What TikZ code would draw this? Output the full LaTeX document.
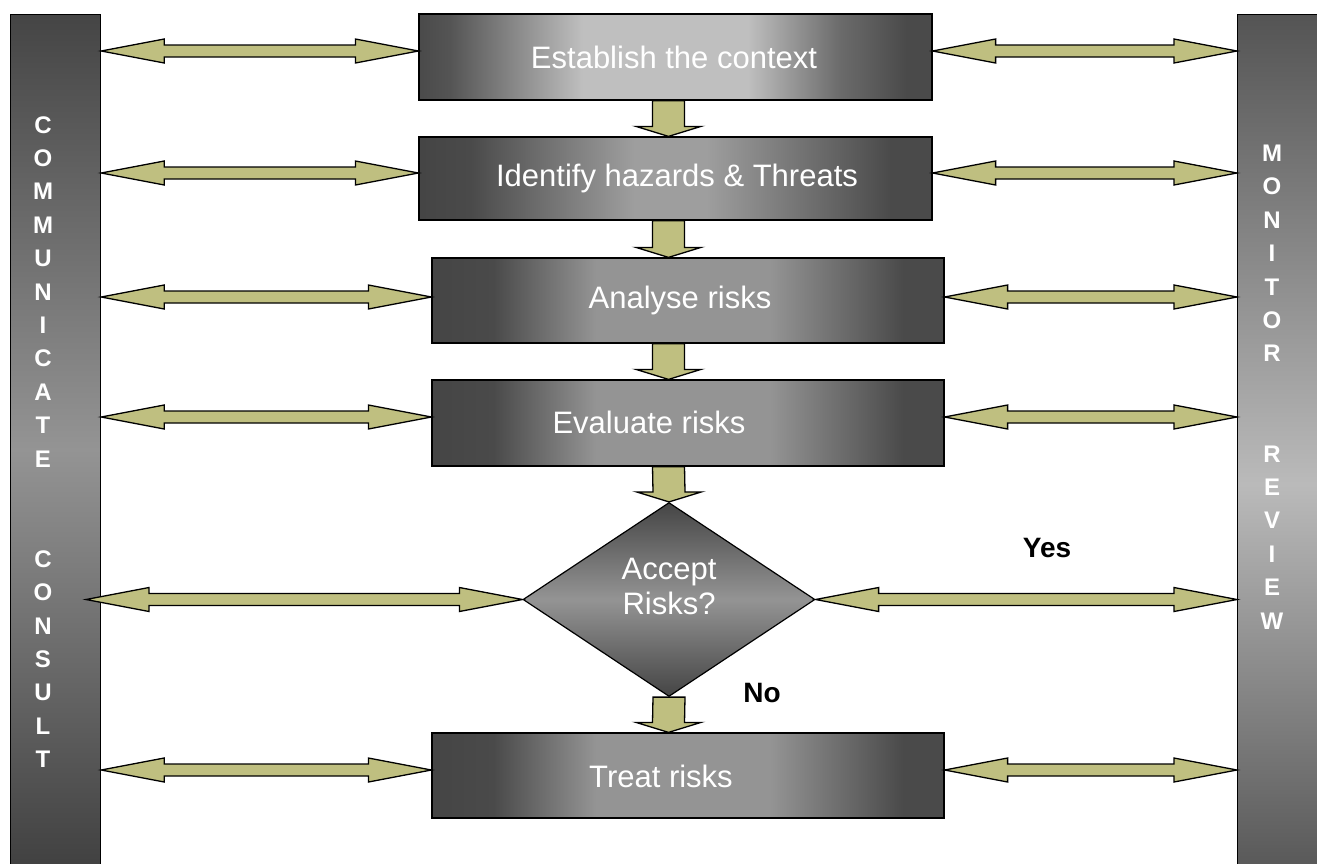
\documentclass[tikz,border=0pt]{standalone}
\usepackage{fontspec}
\setmainfont{Liberation Sans}
\usetikzlibrary{shapes.geometric,calc}
\definecolor{arrowfill}{RGB}{191,191,128}
\definecolor{gA}{gray}{0.27}
\definecolor{gB}{gray}{0.29}
\definecolor{gC}{gray}{0.33}
\definecolor{gD}{gray}{0.58}
\definecolor{gE}{gray}{0.62}
\definecolor{gF}{gray}{0.75}
\definecolor{gG}{gray}{0.73}
\definecolor{gH}{gray}{0.24}
\definecolor{gI}{gray}{0.42}
\pgfdeclarehorizontalshading{boxA}{100bp}{color(0bp)=(gB); color(25bp)=(gB); color(28bp)=(gC); color(41bp)=(gF); color(57bp)=(gF); color(66bp)=(gI); color(72.5bp)=(gB); color(75bp)=(gB); color(100bp)=(gB)}
\pgfdeclarehorizontalshading{boxB}{100bp}{color(0bp)=(gA); color(25bp)=(gA); color(30bp)=(gB); color(46bp)=(gE); color(53bp)=(gE); color(71bp)=(gB); color(75bp)=(gB); color(100bp)=(gB)}
\pgfdeclarehorizontalshading{boxC}{100bp}{color(0bp)=(gA); color(25bp)=(gA); color(31bp)=(gB); color(41bp)=(gD); color(58bp)=(gD); color(71bp)=(gB); color(75bp)=(gB); color(100bp)=(gB)}
\pgfdeclareverticalshading{diam}{100bp}{color(0bp)=(gA); color(25bp)=(gA); color(50bp)=(gD); color(75bp)=(gA); color(100bp)=(gA)}
\pgfdeclareverticalshading{barL}{100bp}{color(0bp)=(gH); color(25bp)=(gH); color(50bp)=(gD); color(75bp)=(gA); color(100bp)=(gA)}
\pgfdeclareverticalshading{barR}{100bp}{color(0bp)=(gC); color(25bp)=(gC); color(48bp)=(gG); color(75bp)=(gC); color(100bp)=(gC)}
\newcommand\hblock[2]{\draw[blockarrow] (#1) -- ($(#1)+(63,-12)$) -- ($(#1)+(63,-6)$) -- ($(#2)+(-63,-6)$) -- ($(#2)+(-63,-12)$) -- (#2) -- ($(#2)+(-63,12)$) -- ($(#2)+(-63,6)$) -- ($(#1)+(63,6)$) -- ($(#1)+(63,12)$) -- cycle;}
\newcommand\vblock[2]{\draw[blockarrow] ($(#1)+(-16,0)$) -- ($(#2)+(-16,-10)$) -- ($(#2)+(-32.5,-10)$) -- (#2) -- ($(#2)+(32.5,-10)$) -- ($(#2)+(16,-10)$) -- ($(#1)+(16,0)$) -- cycle;}
\begin{document}
\begin{tikzpicture}[x=1pt,y=-1pt,
  blockarrow/.style={draw=black, line width=1.3pt, fill=arrowfill, line join=miter},
  procbox/.style={rectangle, draw=black, line width=1.2pt, inner sep=0pt},
  proctext/.style={text=white, font=\fontsize{31}{35}\selectfont, inner sep=0pt, align=center},
  barbox/.style={rectangle, draw=black, line width=1.2pt, inner sep=0pt, anchor=north west},
  sideletters/.style={text=white, font=\bfseries\fontsize{24}{33.4}\selectfont, align=center, inner sep=0pt},
  answer/.style={text=black, font=\bfseries\fontsize{28}{32}\selectfont, inner sep=0pt}]
\useasboundingbox (0,0) rectangle (1317,863);
% side bars
\node[barbox, shading=barL, minimum width=90pt, minimum height=870pt] (lbar) at (10,14) {};
\node[barbox, shading=barR, minimum width=100pt, minimum height=870pt] (rbar) at (1237,14) {};
\node[sideletters] (cl) at (43,442) {C\\O\\M\\M\\U\\N\\I\\C\\A\\T\\E\\\mbox{}\\\mbox{}\\C\\O\\N\\S\\U\\L\\T};
\node[sideletters] (cr) at (1272,387) {M\\O\\N\\I\\T\\O\\R\\\mbox{}\\\mbox{}\\R\\E\\V\\I\\E\\W};
% process boxes
\node[procbox, shading=boxA, minimum width=513pt, minimum height=86pt] (b1) at (675.5,57) {};
\node[procbox, shading=boxB, minimum width=513pt, minimum height=83pt] (b2) at (675.5,178.5) {};
\node[procbox, shading=boxC, minimum width=512pt, minimum height=85pt] (b3) at (688,300.5) {};
\node[procbox, shading=boxC, minimum width=512pt, minimum height=86pt] (b4) at (688,423) {};
\node[diamond, draw=black, line width=1.2pt, inner sep=0pt, shading=diam, minimum width=292pt, minimum height=194pt] (d5) at (669,599.5) {};
\node[procbox, shading=boxC, minimum width=512pt, minimum height=85pt] (b6) at (688,775.5) {};
\node[proctext] (t1) at (674,57) {Establish the context};
\node[proctext] (t2) at (677,178) {Identify hazards \& Threats};
\node[proctext] (t3) at (680,300) {Analyse risks};
\node[proctext] (t4) at (649,422) {Evaluate risks};
\node[proctext] (t5) at (669,586) {Accept\\Risks?};
\node[proctext] (t6) at (661,776) {Treat risks};
\node[answer] (yes) at (1047,548) {Yes};
\node[answer] (no) at (762,693) {No};
% row coordinates
\coordinate (r1) at (0,51);
\coordinate (r2) at (0,173);
\coordinate (r3) at (0,297);
\coordinate (r4) at (0,417);
\coordinate (r6) at (0,770);
\coordinate (ax) at (668.5,0);
\coordinate (l1a) at (lbar.east |- r1); \coordinate (l1b) at (b1.west |- r1);
\coordinate (l2a) at (lbar.east |- r2); \coordinate (l2b) at (b2.west |- r2);
\coordinate (l3a) at (lbar.east |- r3); \coordinate (l3b) at (b3.west |- r3);
\coordinate (l4a) at (lbar.east |- r4); \coordinate (l4b) at (b4.west |- r4);
\coordinate (l5a) at (86,599.5);
\coordinate (l6a) at (lbar.east |- r6); \coordinate (l6b) at (b6.west |- r6);
\coordinate (q1a) at (b1.east |- r1); \coordinate (q1b) at (rbar.west |- r1);
\coordinate (q2a) at (b2.east |- r2); \coordinate (q2b) at (rbar.west |- r2);
\coordinate (q3a) at (b3.east |- r3); \coordinate (q3b) at (rbar.west |- r3);
\coordinate (q4a) at (b4.east |- r4); \coordinate (q4b) at (rbar.west |- r4);
\coordinate (q5b) at (rbar.west |- d5.east);
\coordinate (q6a) at (b6.east |- r6); \coordinate (q6b) at (rbar.west |- r6);
% horizontal double arrows
\hblock{l1a}{l1b} \hblock{q1a}{q1b}
\hblock{l2a}{l2b} \hblock{q2a}{q2b}
\hblock{l3a}{l3b} \hblock{q3a}{q3b}
\hblock{l4a}{l4b} \hblock{q4a}{q4b}
\hblock{l5a}{d5.west} \hblock{d5.east}{q5b}
\hblock{l6a}{l6b} \hblock{q6a}{q6b}
% vertical arrows
\coordinate (v1a) at (ax |- b1.south); \coordinate (v1b) at (ax |- b2.north);
\coordinate (v2a) at (ax |- b2.south); \coordinate (v2b) at (ax |- b3.north);
\coordinate (v3a) at (ax |- b3.south); \coordinate (v3b) at (ax |- b4.north);
\coordinate (v4a) at (ax |- b4.south); \coordinate (v4b) at (d5.north);
\coordinate (v5a) at (d5.south); \coordinate (v5b) at (ax |- b6.north);
\vblock{v1a}{v1b}
\vblock{v2a}{v2b}
\vblock{v3a}{v3b}
\vblock{v4a}{v4b}
\vblock{v5a}{v5b}
\end{tikzpicture}
\end{document}
